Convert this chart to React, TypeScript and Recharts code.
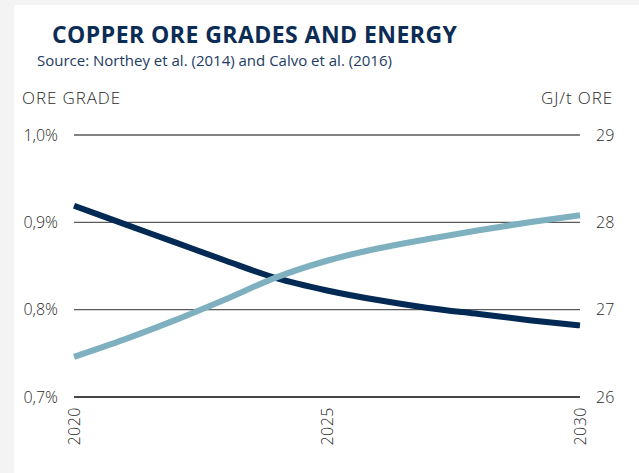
import React from "react";
import { LineChart, Line, XAxis, YAxis, CartesianGrid, ReferenceLine } from "recharts";

const years = [2020, 2021, 2022, 2023, 2024, 2025, 2026, 2027, 2028, 2029, 2030];
const oreGrade = [0.919, 0.898, 0.877, 0.856, 0.836, 0.822, 0.811, 0.802, 0.795, 0.788, 0.782];
const energy = [26.46, 26.66, 26.88, 27.12, 27.37, 27.56, 27.7, 27.81, 27.91, 28.0, 28.08];
const xTicks = [2020, 2025, 2030];
const leftTicks = [0.7, 0.8, 0.9, 1.0];
const rightTicks = [26, 27, 28, 29];

const data = years.map((y, i) => ({ year: y, grade: oreGrade[i], energy: energy[i] }));

const FONT = "'Open Sans', Lato, sans-serif";
const DARK = "#022a54";
const LIGHT = "#7eb0c0";
const TEXT = "#2a2a2a";

const XTick = (props: any) => {
  const { x, y, payload } = props;
  return (
    <g transform={`translate(${x},${y})`}>
      <text transform="rotate(-90)" textAnchor="end" dy="0.36em" fill={TEXT} fontSize={16} letterSpacing={0.5} fontFamily={FONT} fontWeight={300}>
        {payload.value}
      </text>
    </g>
  );
};

export default function App() {
  return (
    <div style={{ position: "absolute", left: 0, top: 0, width: 639, height: 473, background: "#f3f3f3", overflow: "hidden" }}>
      <div style={{ position: "absolute", left: 14, top: 5, width: 625, height: 468, background: "#fff" }} />
      <div style={{ position: "absolute", left: 52, top: 18, fontFamily: FONT, fontWeight: 700, fontSize: 23, letterSpacing: 0.45, color: "#0b2c54", whiteSpace: "nowrap" }}>
        COPPER ORE GRADES AND ENERGY
      </div>
      <div style={{ position: "absolute", left: 37, top: 50, fontFamily: FONT, fontSize: 15, color: "#1d3b63", whiteSpace: "nowrap" }}>
        Source: Northey et al. (2014) and Calvo et al. (2016)
      </div>
      <div style={{ position: "absolute", left: 22, top: 86, fontFamily: FONT, fontWeight: 300, fontSize: 17, letterSpacing: 0.9, color: TEXT, whiteSpace: "nowrap" }}>
        ORE GRADE
      </div>
      <div style={{ position: "absolute", right: 26, top: 86, fontFamily: FONT, fontWeight: 300, fontSize: 17, letterSpacing: 0.9, color: TEXT, whiteSpace: "nowrap" }}>
        GJ/t ORE
      </div>
      <div style={{ position: "absolute", left: 0, top: 0 }}>
        <LineChart width={639} height={473} data={data} margin={{ top: 135, right: 0, bottom: 0, left: 0 }}>
          <CartesianGrid horizontal vertical={false} stroke="#5a5a5a" strokeWidth={1.3} yAxisId="left" />
          <XAxis
            dataKey="year"
            type="number"
            domain={[2020, 2030]}
            ticks={xTicks}
            axisLine={false}
            tickLine={false}
            tickSize={0}
            tickMargin={10}
            height={76}
            tick={<XTick />}
            interval={0}
          />
          <YAxis
            yAxisId="left"
            orientation="left"
            domain={[0.7, 1.0]}
            ticks={leftTicks}
            width={74}
            axisLine={false}
            tickLine={false}
            tickSize={0}
            tickMargin={16}
            tickFormatter={(v: number) => v.toFixed(1).replace(".", ",") + "%"}
            tick={{ fill: TEXT, fontSize: 16, fontFamily: FONT, fontWeight: 300 }}
            interval={0}
          />
          <YAxis
            yAxisId="right"
            orientation="right"
            domain={[26, 29]}
            ticks={rightTicks}
            width={59}
            axisLine={false}
            tickLine={false}
            tickSize={0}
            tickMargin={16}
            tick={{ fill: TEXT, fontSize: 16, fontFamily: FONT, fontWeight: 300, textAnchor: "start" }}
            interval={0}
          />
          <ReferenceLine yAxisId="left" y={0.7} stroke="#333" strokeWidth={1.6} />
          <Line yAxisId="left" type="monotone" dataKey="grade" stroke={DARK} strokeWidth={6} dot={false} isAnimationActive={false} />
          <Line yAxisId="right" type="monotone" dataKey="energy" stroke={LIGHT} strokeWidth={6} dot={false} isAnimationActive={false} />
        </LineChart>
      </div>
    </div>
  );
}
